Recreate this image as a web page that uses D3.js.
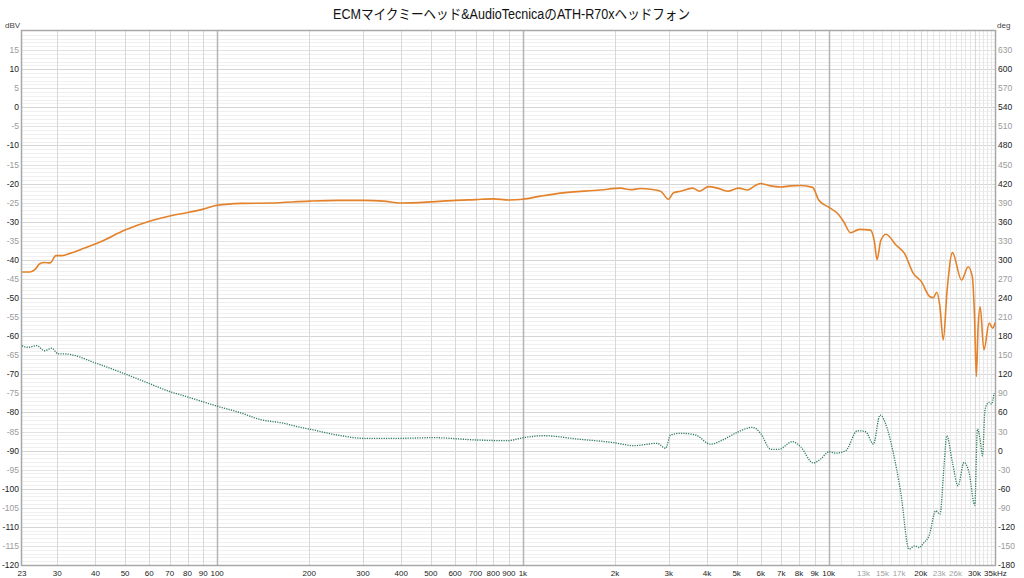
<!DOCTYPE html>
<html><head><meta charset="utf-8">
<script src="https://cdn.jsdelivr.net/npm/d3@7"></script>
<style>
html,body{margin:0;padding:0;background:#fff;}
svg{display:block;}
</style></head>
<body>
<svg id="c" width="1024" height="578"></svg>
<script>
const titleText = "ECMマイクミーヘッド&AudioTecnicaのATH-R70xヘッドフォン";

// Magnitude (dBV) - orange
const magFreq = [23,24.4,25.4,26.3,27.2,28.4,29.7,31.1,33,36,41.4,50,60,70,80,90,100,120,150,200,250,300,350,400,500,600,700,800,900,1000,1141,1327,1794,2086,2249,2425,2613,2819,2994,3110,3278,3588,3782,4048,4331,4671,5076,5431,5725,5990,6458,6965,7510,8096,8864,9276,10000,10680,11200,11800,12600,13700,14100,14400,14800,15400,16600,17700,18900,20100,21400,22000,22570,23100,23700,24400,25400,27200,28600,29500,30000,30400,30800,31300,32200,33500,34400,35000];
const magDb = [-43.2,-43.2,-42.5,-41,-40.7,-40.8,-38.9,-38.9,-38.3,-37.2,-35.3,-32.2,-29.9,-28.5,-27.6,-26.7,-25.7,-25.2,-25.1,-24.6,-24.4,-24.4,-24.6,-25.1,-24.8,-24.4,-24.2,-24.0,-24.3,-24.1,-23.3,-22.5,-21.7,-21.2,-21.6,-21.3,-21.5,-22,-24.1,-22.4,-22,-21.2,-22,-20.8,-21.2,-22,-21.2,-21.7,-20.6,-20,-20.6,-20.9,-20.6,-20.5,-21,-24.3,-26.2,-27.8,-30,-32.9,-32,-32.2,-35,-39.9,-35,-33.3,-36.1,-38.3,-43.5,-45.7,-49.6,-49.9,-48.5,-52,-61,-48,-38.1,-45.3,-41.8,-44.4,-55,-70.6,-58,-52.3,-63.6,-56.6,-57.9,-56.5];

// Phase (deg) - green
const phaseFreq = [23,24.1,25.7,27.3,28.8,30.2,31.8,40.4,50,59.6,70.2,79.6,99.8,118.9,138,164.8,187,201.5,250,301,397,511,708,888,1005,1170,1504,1983,2305,2749,2928,3041,3278,3670,4108,4542,5026,5626,5990,6458,6877,7606,8096,8900,9416,10023,10541,11367,12415,13216,14007,14722,15567,16169,17208,18318,19124,19755,20512,21298,22400,23138,23846,24334,25404,26494,27722,28782,30047,30670,31278,31852,32481,33477,34086,34767];
const phaseDeg = [165,162.5,165,157,161,152,152,137,120.5,106,92.6,84.7,70,59.6,49,43,36.6,33.5,24,19.3,19.3,20.3,16.6,15.5,20.3,23.4,18.2,12.4,7.7,11.4,3.6,24.5,27.2,24.5,10,17.7,28.7,36.6,27.2,2,2,14,6,-19.5,-13.4,-1.9,-4,-0.3,31.2,29.6,10.2,55.9,33.8,2.3,-65.9,-155,-150,-152.5,-144.6,-134,-94.8,-100,-23.9,23.3,-18.7,-55.4,-18.7,-34.4,-85.9,33.8,18,-8.2,65.3,75.8,73.2,90.5];

// Tick labels
const xTickVals = [23,30,40,50,60,70,80,90,100,200,300,400,500,600,700,800,900,1000,2000,3000,4000,5000,6000,7000,8000,9000,10000,13000,15000,17000,20000,23000,26000,30000,35000];
const xTickLabels = ["23","30","40","50","60","70","80","90","100","200","300","400","500","600","700","800","900","1k","2k","3k","4k","5k","6k","7k","8k","9k","10k","13k","15k","17k","20k","23k","26k","30k","35kHz"];
const xTickGray = ["13k","15k","17k","23k","26k"];
const leftTicks = d3.range(15, -121, -5);
const rightTicks = d3.range(630, -181, -30);

const svg = d3.select("#c");
const L = 22, R = 995, T = 31, B = 565;

const x = d3.scaleLog().domain([23, 35000]).range([L, R]);
const yL = d3.scaleLinear().domain([-120, 20]).range([B, T]);
const yR = d3.scaleLinear().domain([-180, 660]).range([B, T]);

const g = svg.append("g");

// horizontal grid (1 dB)
const hLines = d3.range(-119, 20, 1);
g.selectAll("line.h").data(hLines).join("line")
  .attr("x1", L).attr("x2", R)
  .attr("y1", d => Math.round(yL(d)) + 0.5).attr("y2", d => Math.round(yL(d)) + 0.5)
  .attr("stroke", d => d % 10 === 0 ? "#d6d6d6" : (d % 5 === 0 ? "#e2e2e2" : "#f0f0f0"))
  .attr("stroke-width", 1);

// vertical grid
const vMinor = [];
[10, 100, 1000].forEach(dec => { for (let k = 2; k <= 9; k++) { const f = k * dec; if (f > 23) vMinor.push(f); } });
const vMajor = [100, 1000, 10000];
const vFine = d3.range(11000, 35000, 1000).filter(f => f !== 20000 && f !== 30000);
const vHigh = [20000, 30000];
g.selectAll("line.vf").data(vFine).join("line")
  .attr("x1", d => Math.round(x(d)) + 0.5).attr("x2", d => Math.round(x(d)) + 0.5)
  .attr("y1", T).attr("y2", B).attr("stroke", "#e6e6e6");
g.selectAll("line.vm").data(vMinor.filter(f => !vMajor.includes(f)).concat(vHigh)).join("line")
  .attr("x1", d => Math.round(x(d)) + 0.5).attr("x2", d => Math.round(x(d)) + 0.5)
  .attr("y1", T).attr("y2", B).attr("stroke", "#d8d8d8");
g.selectAll("line.vM").data(vMajor).join("line")
  .attr("x1", d => Math.round(x(d)) + 0.5).attr("x2", d => Math.round(x(d)) + 0.5)
  .attr("y1", T).attr("y2", B).attr("stroke", "#b4b4b4").attr("stroke-width", 1.5);

// frame
svg.append("rect").attr("x", L - 0.5).attr("y", T - 0.5).attr("width", R - L + 1).attr("height", B - T + 1)
  .attr("fill", "none").attr("stroke", "#a8a8a8").attr("stroke-width", 1.5);

// curves
const magData = magFreq.map((f, i) => [f, magDb[i]]);
const phData = phaseFreq.map((f, i) => [f, phaseDeg[i]]);

svg.append("path").datum(phData)
  .attr("d", d3.line().x(d => x(d[0])).y(d => yR(d[1])).curve(d3.curveMonotoneX))
  .attr("fill", "none").attr("stroke", "#2c7b59").attr("stroke-width", 1.3)
  .attr("stroke-dasharray", "1.2,1.2");

svg.append("path").datum(magData)
  .attr("d", d3.line().x(d => x(d[0])).y(d => yL(d[1])).curve(d3.curveMonotoneX))
  .attr("fill", "none").attr("stroke", "#e3822a").attr("stroke-width", 1.6);

// axes labels
const font = "'Liberation Sans', Arial, sans-serif";
svg.selectAll("text.yl").data(leftTicks).join("text")
  .attr("x", 19).attr("y", d => yL(d) + 3)
  .attr("text-anchor", "end").attr("font-family", font).attr("font-size", 8.5)
  .attr("fill", d => d % 10 === 0 ? "#222" : "#9a9a9a")
  .text(d => d);
svg.selectAll("text.yr").data(rightTicks).join("text")
  .attr("x", 998).attr("y", d => yR(d) + 3)
  .attr("text-anchor", "start").attr("font-family", font).attr("font-size", 8.5)
  .attr("fill", d => d % 60 === 0 ? "#222" : "#9a9a9a")
  .text(d => d);
const nX = xTickVals.length;
svg.selectAll("text.xl").data(xTickVals).join("text")
  .attr("x", (d, i) => i === nX - 1 ? 984 : x(d))
  .attr("y", 576)
  .attr("text-anchor", (d, i) => i === nX - 1 ? "start" : "middle")
  .attr("font-family", font).attr("font-size", 8)
  .attr("fill", (d, i) => xTickGray.includes(xTickLabels[i]) ? "#a0a0a0" : "#222")
  .text((d, i) => xTickLabels[i]);

svg.append("text").attr("x", 5).attr("y", 28).attr("font-family", font).attr("font-size", 8)
  .attr("fill", "#444").text("dBV");
svg.append("text").attr("x", 997).attr("y", 28).attr("font-family", font).attr("font-size", 8)
  .attr("fill", "#444").text("deg");

svg.append("text").attr("x", 333).attr("y", 19)
  .attr("font-family", "'Liberation Sans', 'Noto Sans CJK JP', sans-serif")
  .attr("font-size", 14).attr("fill", "#111")
  .attr("textLength", 357).attr("lengthAdjust", "spacingAndGlyphs")
  .text(titleText);
</script>
</body></html>
